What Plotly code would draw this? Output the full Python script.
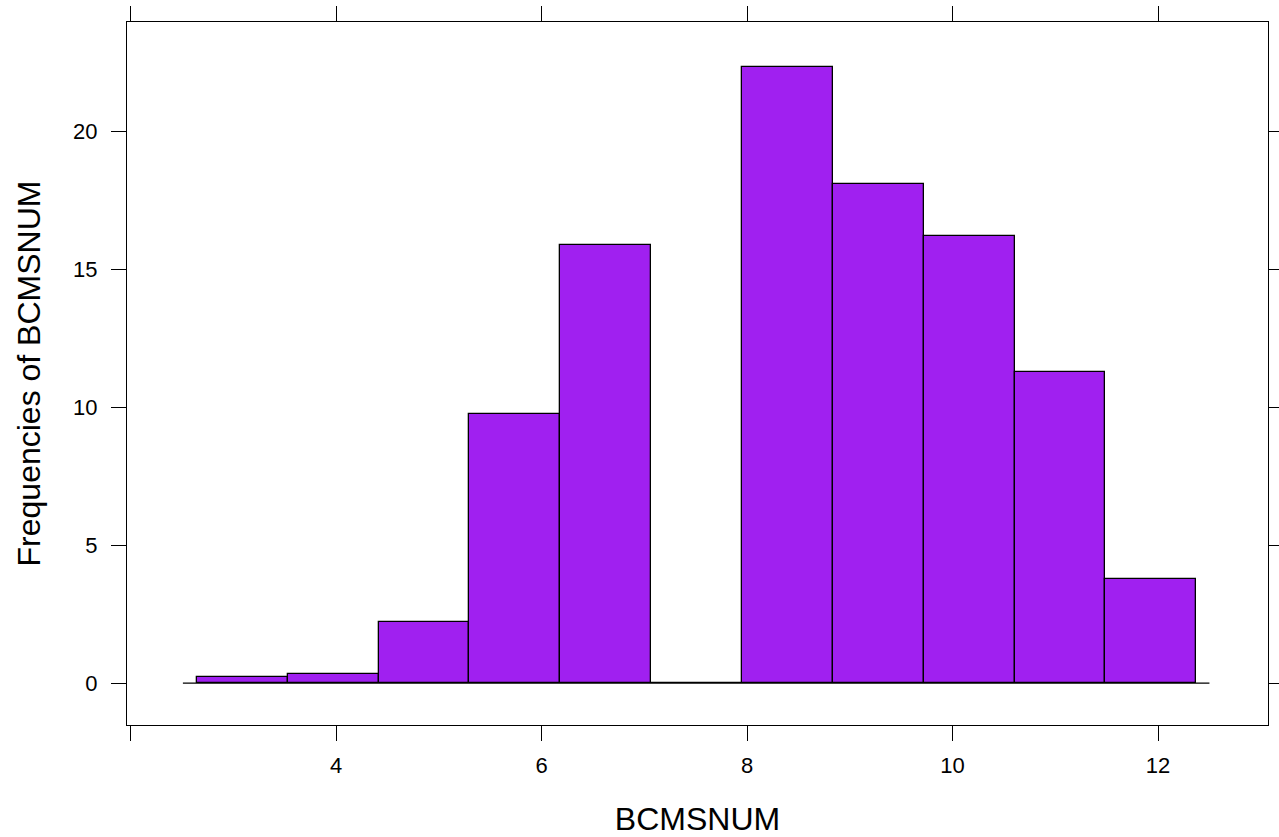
import plotly.graph_objects as go

# Data
breaks = [2.647, 3.531, 4.415, 5.299, 6.183, 7.067, 7.951, 8.835, 9.719, 10.603, 11.487, 12.371]
percents = [0.22, 0.33, 2.21, 9.75, 15.87, 0.0, 22.32, 18.08, 16.20, 11.27, 3.77]
x_tickvals = [2, 4, 6, 8, 10, 12]
x_ticktext = ["", "4", "6", "8", "10", "12"]
y_tickvals = [0, 5, 10, 15, 20]
baseline_extent = [2.51, 12.50]

centers = [(a + b) / 2 for a, b in zip(breaks[:-1], breaks[1:])]
widths = [b - a for a, b in zip(breaks[:-1], breaks[1:])]

FONT = "Liberation Sans, Arial, sans-serif"

fig = go.Figure()
fig.add_trace(go.Bar(
    x=centers, y=percents, width=widths,
    marker=dict(color="#A020F0", line=dict(color="black", width=1.3)),
    hoverinfo="x+y", showlegend=False,
))

fig.add_shape(type="line", x0=baseline_extent[0], x1=baseline_extent[1], y0=0, y1=0,
              xref="x", yref="y", line=dict(color="black", width=1.2), layer="below")

axis_common = dict(
    showgrid=False, zeroline=False, showline=True, linecolor="black", linewidth=1.3,
    mirror="ticks", ticks="outside", ticklen=15, tickwidth=1.3, tickcolor="black",
    tickfont=dict(family=FONT, size=22, color="black"), automargin=False,
)

fig.update_layout(
    width=1279, height=837,
    paper_bgcolor="white", plot_bgcolor="white",
    margin=dict(l=127, r=11, t=22, b=112),
    bargap=0,
    xaxis=dict(range=[1.966, 13.07], tickvals=x_tickvals, ticktext=x_ticktext,
               title=dict(text="BCMSNUM", font=dict(family=FONT, size=32, color="black"), standoff=31),
               ticklabelstandoff=5, **axis_common),
    yaxis=dict(range=[-1.52, 23.95], tickvals=y_tickvals,
               title=dict(text="Frequencies of BCMSNUM", font=dict(family=FONT, size=32, color="black"), standoff=22),
               ticklabelstandoff=9, **axis_common),
)

fig.write_html("out.html", config={"displayModeBar": False},
               post_script="document.body.style.margin='0';document.body.style.overflow='hidden';")
